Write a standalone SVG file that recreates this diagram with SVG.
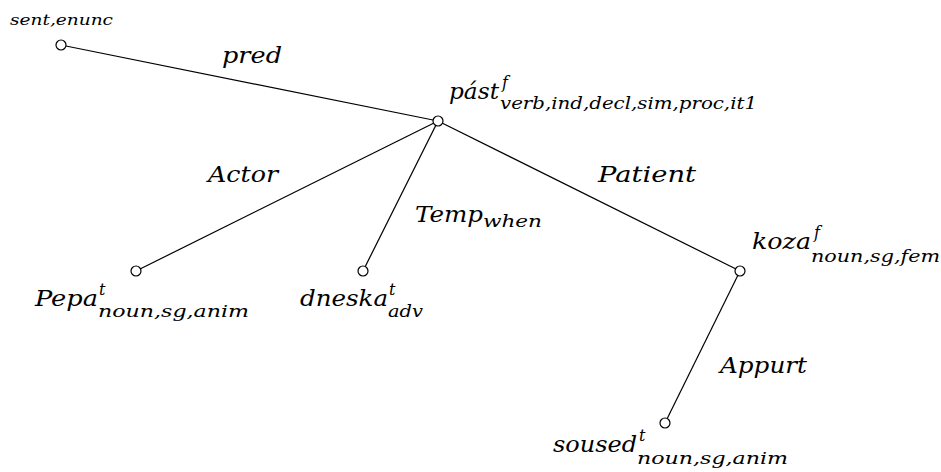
<svg xmlns="http://www.w3.org/2000/svg" width="941" height="472" viewBox="0 0 941 472">
  <style>
    .edge { stroke: #000; stroke-width: 1.2; fill: none; }
    .node { fill: #fff; stroke: #000; stroke-width: 1.2; }
    text { font-family: "DejaVu Serif", "Liberation Serif", serif; font-style: italic; fill: #000; }
    .lbl { font-size: 22px; }
    .sub { font-size: 16px; }
    .small { font-size: 14px; }
  </style>
  <rect width="941" height="472" fill="#fff"/>

  <!-- tree edges with their relation labels -->
  <g id="edges">
    <line class="edge" x1="61" y1="45" x2="438" y2="121"/>
    <line class="edge" x1="438" y1="121" x2="136" y2="271"/>
    <line class="edge" x1="438" y1="121" x2="363" y2="271"/>
    <line class="edge" x1="438" y1="121" x2="740" y2="271"/>
    <line class="edge" x1="740" y1="271" x2="665" y2="423"/>
    <text class="lbl" x="222" y="63" textLength="60" lengthAdjust="spacingAndGlyphs">pred</text>
    <text class="lbl" x="208" y="182" textLength="70" lengthAdjust="spacingAndGlyphs">Actor</text>
    <text class="lbl" x="415" y="222" textLength="68" lengthAdjust="spacingAndGlyphs">Temp</text>
    <text class="sub" x="483" y="227" textLength="59" lengthAdjust="spacingAndGlyphs">when</text>
    <text class="lbl" x="598" y="182" textLength="98" lengthAdjust="spacingAndGlyphs">Patient</text>
    <text class="lbl" x="720" y="373" textLength="87" lengthAdjust="spacingAndGlyphs">Appurt</text>
  </g>

  <!-- root -->
  <g id="root">
    <circle class="node" cx="61" cy="45" r="5"/>
    <text class="small" x="10" y="25" textLength="103" lengthAdjust="spacingAndGlyphs">sent,enunc</text>
  </g>

  <!-- verb -->
  <g id="past">
    <circle class="node" cx="438" cy="121" r="5"/>
    <text class="lbl" x="449" y="99" textLength="50" lengthAdjust="spacingAndGlyphs">pást</text>
    <text class="sub" x="502" y="88">f</text>
    <text class="sub" x="500" y="109" textLength="257" lengthAdjust="spacingAndGlyphs">verb,ind,decl,sim,proc,it1</text>
  </g>

  <g id="pepa">
    <circle class="node" cx="136" cy="271" r="5"/>
    <text class="lbl" x="35" y="306" textLength="63" lengthAdjust="spacingAndGlyphs">Pepa</text>
    <text class="sub" x="99" y="295">t</text>
    <text class="sub" x="98" y="317" textLength="151" lengthAdjust="spacingAndGlyphs">noun,sg,anim</text>
  </g>

  <g id="dneska">
    <circle class="node" cx="363" cy="271" r="5"/>
    <text class="lbl" x="300" y="306" textLength="88" lengthAdjust="spacingAndGlyphs">dneska</text>
    <text class="sub" x="389" y="295">t</text>
    <text class="sub" x="388" y="317" textLength="35" lengthAdjust="spacingAndGlyphs">adv</text>
  </g>

  <g id="koza">
    <circle class="node" cx="740" cy="271" r="5"/>
    <text class="lbl" x="752" y="249" textLength="59" lengthAdjust="spacingAndGlyphs">koza</text>
    <text class="sub" x="814" y="238">f</text>
    <text class="sub" x="811" y="262" textLength="129" lengthAdjust="spacingAndGlyphs">noun,sg,fem</text>
  </g>

  <g id="soused">
    <circle class="node" cx="665" cy="423" r="5"/>
    <text class="lbl" x="553" y="452" textLength="84" lengthAdjust="spacingAndGlyphs">soused</text>
    <text class="sub" x="639" y="441">t</text>
    <text class="sub" x="637" y="464" textLength="151" lengthAdjust="spacingAndGlyphs">noun,sg,anim</text>
  </g>
</svg>
